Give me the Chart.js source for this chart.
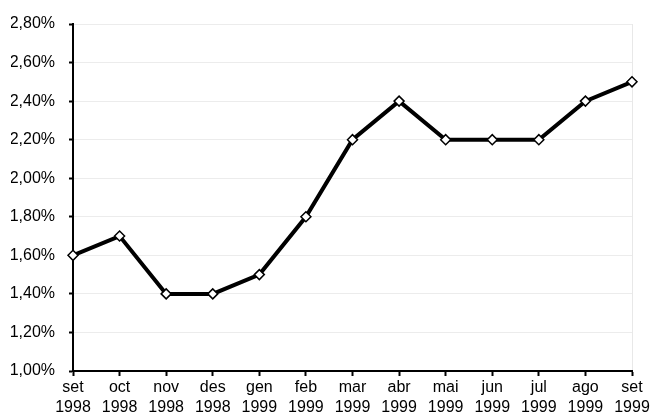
<!DOCTYPE html>
<html>
<head>
<meta charset="utf-8">
<script src="https://cdn.jsdelivr.net/npm/chart.js@4/dist/chart.umd.min.js"></script>
<style>
  html, body { margin: 0; padding: 0; background: #fff; }
  canvas { display: block; }
</style>
</head>
<body>
<canvas id="chart" width="653" height="414"></canvas>
<script>
// mesos i anys (dues línies per etiqueta)
const months = ['set', 'oct', 'nov', 'des', 'gen', 'feb', 'mar', 'abr', 'mai', 'jun', 'jul', 'ago', 'set'];
const years = ['1998', '1998', '1998', '1998', '1999', '1999', '1999', '1999', '1999', '1999', '1999', '1999', '1999'];
const rates = [1.6, 1.7, 1.4, 1.4, 1.5, 1.8, 2.2, 2.4, 2.2, 2.2, 2.2, 2.4, 2.5];

const labels = months.map((m, i) => [m, years[i]]);
const font = { family: '"Liberation Sans", Arial, sans-serif', size: 16, lineHeight: 1.25 };

new Chart(document.getElementById('chart'), {
  type: 'line',
  data: {
    labels: labels,
    datasets: [{
      data: rates,
      borderColor: '#000',
      borderWidth: 4,
      tension: 0,
      pointStyle: 'rectRot',
      pointRadius: 5,
      pointBorderWidth: 1.5,
      pointBackgroundColor: '#fff',
      pointBorderColor: '#000'
    }]
  },
  options: {
    responsive: false,
    animation: false,
    layout: { padding: { left: 11, top: 14, right: 21, bottom: 0 } },
    plugins: { legend: { display: false }, tooltip: { enabled: false } },
    scales: {
      x: {
        offset: false,
        afterFit: (scale) => { scale.height = 43; },
        grid: {
          color: (ctx) => ctx.index === months.length - 1 ? '#e8e8e8' : 'rgba(0,0,0,0)',
          tickColor: '#000',
          tickLength: 5,
          tickWidth: 2
        },
        border: { color: '#000', width: 2 },
        ticks: { color: '#000', font: font, padding: 2, maxRotation: 0, autoSkip: false }
      },
      y: {
        min: 1,
        max: 2.8,
        afterFit: (scale) => { scale.width = 62; },
        grid: { color: '#ececec', tickColor: '#000', tickLength: 4, tickWidth: 2 },
        border: { color: '#000', width: 2 },
        ticks: {
          stepSize: 0.2,
          color: '#000',
          font: font,
          padding: 14,
          callback: (v) => v.toFixed(2).replace('.', ',') + '%'
        }
      }
    }
  }
});
</script>
</body>
</html>
